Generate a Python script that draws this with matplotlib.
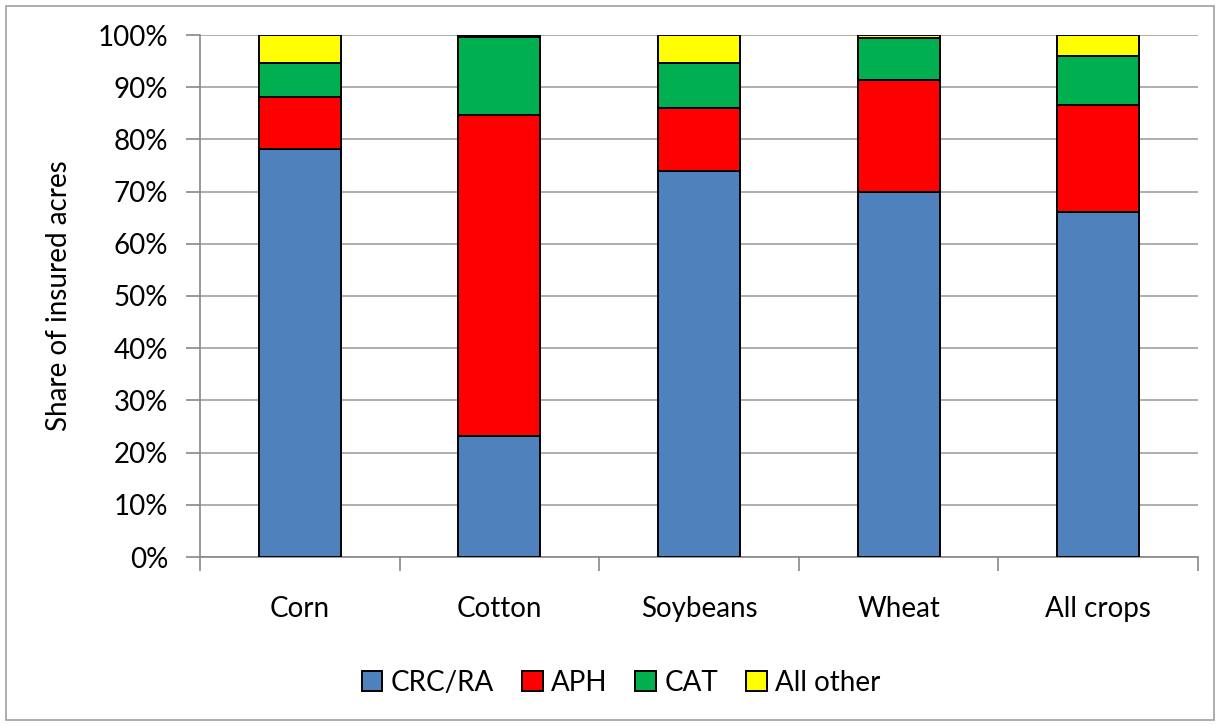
import matplotlib.pyplot as plt
from matplotlib.patches import Rectangle
import numpy as np

plt.rcParams['font.family'] = ['Lato', 'DejaVu Sans']

crops = ['Corn', 'Cotton', 'Soybeans', 'Wheat', 'All crops']
crc_ra = [78.2, 23.2, 74.0, 69.9, 66.1]
aph = [9.9, 61.4, 12.1, 21.4, 20.4]
cat = [6.6, 15.0, 8.5, 8.1, 9.4]
all_other = [5.3, 0.4, 5.4, 0.6, 4.1]

series = [('CRC/RA', crc_ra, '#4F81BD'),
          ('APH', aph, '#FF0000'),
          ('CAT', cat, '#00B050'),
          ('All other', all_other, '#FFFF00')]

fig = plt.figure(figsize=(12.2, 7.25), dpi=100)
ax = fig.add_axes([200 / 1220, 1 - 557 / 725, 998 / 1220, 522 / 725])

# grey frame round the whole chart
fig.patches.append(Rectangle((6 / 1220, 5 / 725), 1208 / 1220, 714 / 725,
                             transform=fig.transFigure, fill=False,
                             edgecolor='#A0A0A0', linewidth=1.2))

x = np.arange(len(crops))
bottom = np.zeros(len(crops))
for name, vals, color in series:
    vals = np.array(vals)
    ax.bar(x, vals, width=0.41, bottom=bottom, color=color,
           edgecolor='black', linewidth=1.4, label=name, zorder=3)
    bottom += vals

ax.set_xlim(-0.5, len(crops) - 0.5)
ax.set_ylim(0, 100)
ax.set_yticks(np.arange(0, 101, 10))
ax.set_yticklabels([f'{v}%' for v in range(0, 101, 10)], fontsize=20)
ax.yaxis.grid(True, color='#A0A0A0', linewidth=1.2, zorder=0)

ax.set_xticks(x)
ax.set_xticklabels(crops, fontsize=20)
ax.set_xticks(np.arange(-0.5, len(crops)), minor=True)
ax.tick_params(axis='x', which='major', length=0, pad=28)
ax.tick_params(axis='x', which='minor', length=10, color='#888888', width=1.2)
ax.tick_params(axis='y', length=10, color='#888888', width=1.2, pad=13)

for side in ('top', 'right'):
    ax.spines[side].set_visible(False)
for side in ('left', 'bottom'):
    ax.spines[side].set_color('#888888')
    ax.spines[side].set_linewidth(1.2)

ax.set_ylabel('Share of insured acres', fontsize=20, labelpad=18)

fig.legend(*ax.get_legend_handles_labels(), loc='center',
           bbox_to_anchor=(621 / 1220, 1 - 683 / 725), ncol=4, frameon=False,
           fontsize=20, handlelength=0.75, handleheight=0.75, handletextpad=0.3,
           columnspacing=1.0)

fig.savefig('out.png', dpi=100)
